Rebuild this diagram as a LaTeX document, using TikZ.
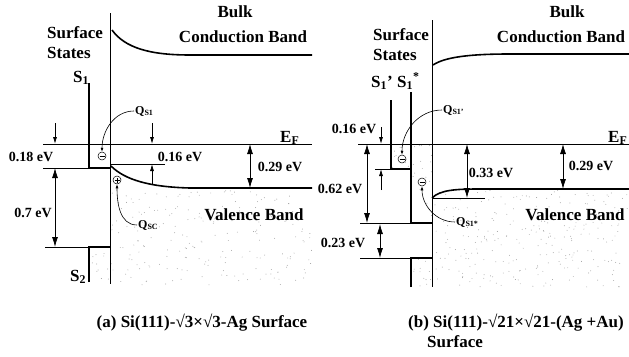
\documentclass[tikz,border=0pt]{standalone}
\usepackage{fontspec}
\setmainfont{Liberation Serif}
\usetikzlibrary{arrows.meta}

\begin{document}
\begin{tikzpicture}[x=1pt,y=-1pt,
    band/.style={line width=1.6pt},
    level/.style={line width=1.6pt},
    wall/.style={line width=1.1pt},
    ref/.style={line width=0.6pt},
    dim/.style={line width=0.8pt,{Latex[length=10pt,width=6pt]}-{Latex[length=10pt,width=6pt]}},
    tick/.style={line width=0.8pt,-{Latex[length=7pt,width=4pt]}},
    qarr/.style={line width=0.6pt,-{Latex[length=4pt,width=3pt]}},
    stip/.style={fill=black!40},
    lbl/.style={font=\bfseries\fontsize{17}{19}\selectfont,inner sep=0pt},
    ev/.style={font=\bfseries\fontsize{14}{16}\selectfont,inner sep=0pt},
    qlbl/.style={font=\bfseries\fontsize{12}{14}\selectfont,inner sep=0pt},
    neg/.style={circle,draw,line width=0.5pt,minimum size=8pt,inner sep=0pt,
      path picture={\draw ([xshift=1.5pt]path picture bounding box.west) -- ([xshift=-1.5pt]path picture bounding box.east);}},
    posc/.style={circle,draw,line width=0.5pt,minimum size=8pt,inner sep=0pt,
      path picture={\draw ([xshift=1.5pt]path picture bounding box.west) -- ([xshift=-1.5pt]path picture bounding box.east)
        ([yshift=1.5pt]path picture bounding box.south) -- ([yshift=-1.5pt]path picture bounding box.north);}}]

  \useasboundingbox (0,0) rectangle (629,356);
  \pgfmathsetseed{7}

  % ---------------- (a) Si(111)-sqrt3 x sqrt3-Ag ----------------

  % Stippled valence band
  \begin{scope}
    \clip (111,166) .. controls (125,180) and (150,187) .. (190,188) -- (312,188)
      -- (312,285) -- (111,285) -- cycle;
    \foreach \i in {1,...,260}
      \fill[stip] ({111+201*rnd},{166+119*rnd}) circle (0.45pt);
  \end{scope}
  \begin{scope}
    \clip (89,247) rectangle (110,284);
    \foreach \i in {1,...,12}
      \fill[stip] ({89+21*rnd},{247+37*rnd}) circle (0.45pt);
  \end{scope}

  % Fermi level and reference lines
  \draw[ref] (43,144) -- (312,144);
  \draw[ref] (43,168) -- (89,168);
  \draw[ref] (45,247) -- (89,247);
  \draw[ref] (111,164) -- (165,164);

  % Surface
  \draw[wall] (110.5,13) -- (110.5,284);

  % Bands
  \draw[band] (112,30) .. controls (125,48) and (150,55) .. (190,55) -- (312,55);
  \draw[band] (111,166) .. controls (125,180) and (150,187) .. (190,188) -- (312,188);

  % Surface state levels
  \draw[level] (89,83) -- (89,168) -- (110,168);
  \draw[level] (89,282) -- (89,247) -- (110,247);

  % Energies
  \draw[tick] (55,123) -- (55,144);
  \draw[dim] (55,168) -- (55,247);
  \draw[tick] (152,123) -- (152,144);
  \draw[tick] (152,185) -- (152,164);
  \draw[dim] (250,144) -- (250,188);
  \node[ev,anchor=base] (eAa) at (31,161) {0.18 eV};
  \node[ev,anchor=base] (eAb) at (33,217) {0.7 eV};
  \node[ev,anchor=base] (eAc) at (180,161) {0.16 eV};
  \node[ev,anchor=base] (eAd) at (280,171) {0.29 eV};

  % Charges
  \node[neg] (mA) at (102,156) {};
  \node[posc] (pA) at (117,180) {};
  \node[qlbl,anchor=base west] (qsA) at (135,114) {Q\textsubscript{S1}};
  \node[qlbl,anchor=base west] (qcA) at (138,228) {Q\textsubscript{SC}};
  \draw[qarr] ([xshift=-1pt]qsA.west) to[out=180,in=90] (mA.north);
  \draw[qarr] ([xshift=-1pt]qcA.west) to[out=180,in=-90] (pA.south);

  % Labels
  \node[lbl,anchor=base] (bulkA) at (235,17) {Bulk};
  \node[lbl,anchor=base] (cbA) at (243,42) {Conduction Band};
  \node[lbl,anchor=base west] (surfA) at (47,38) {Surface};
  \node[lbl,anchor=base west] (statA) at (47,58) {States};
  \node[lbl,anchor=base west] (s1A) at (73,82) {S\textsubscript{1}};
  \node[lbl,anchor=base west] (s2A) at (70,281) {S\textsubscript{2}};
  \node[lbl,anchor=base west] (efA) at (280,142) {E\textsubscript{F}};
  \node[lbl,anchor=base] (vbA) at (254,220) {Valence Band};
  \node[lbl,anchor=base] (capA) at (202,327) {(a) Si(111)-√3×√3-Ag Surface};

  % ---------------- (b) Si(111)-sqrt21 x sqrt21-(Ag+Au) ----------------

  % Stippled valence band and filled states
  \begin{scope}
    \clip (432,198) .. controls (440,190) and (455,189) .. (480,189) -- (629,189)
      -- (629,287) -- (432,287) -- cycle;
    \foreach \i in {1,...,260}
      \fill[stip] ({432+197*rnd},{189+98*rnd}) circle (0.45pt);
  \end{scope}
  \begin{scope}
    \clip (391,144) rectangle (411,169) (411,144) rectangle (432,223)
      (411,258) rectangle (432,287);
    \foreach \i in {1,...,90}
      \fill[stip] ({391+41*rnd},{144+143*rnd}) circle (0.45pt);
  \end{scope}

  % Fermi level and reference lines
  \draw[ref] (358,144) -- (629,144);
  \draw[ref] (375,169) -- (391,169);
  \draw[ref] (360,223) -- (411,223);
  \draw[ref] (360,258) -- (411,258);
  \draw[ref] (432,198) -- (485,198);

  % Surface
  \draw[wall] (432.5,20) -- (432.5,287);

  % Bands
  \draw[band] (433,65) .. controls (445,57) and (470,54) .. (510,54) -- (629,54);
  \draw[band] (432,198) .. controls (440,190) and (455,189) .. (480,189) -- (629,189);

  % Surface state levels
  \draw[level] (391,100) -- (391,169) -- (411,169);
  \draw[level] (411,92) -- (411,223) -- (432,223);
  \draw[level] (411,287) -- (411,258) -- (432,258);

  % Energies
  \draw[tick] (381,127) -- (381,144);
  \draw[tick] (381,190) -- (381,169);
  \draw[dim] (367,144) -- (367,223);
  \draw[dim] (380,224) -- (380,258);
  \draw[dim] (467,144) -- (467,198);
  \draw[dim] (563,144) -- (563,189);
  \node[ev,anchor=base] (eBa) at (354,133) {0.16 eV};
  \node[ev,anchor=base] (eBb) at (340,193) {0.62 eV};
  \node[ev,anchor=base] (eBc) at (343,247) {0.23 eV};
  \node[ev,anchor=base] (eBd) at (491,177) {0.33 eV};
  \node[ev,anchor=base] (eBe) at (591,170) {0.29 eV};

  % Charges
  \node[neg] (mB1) at (402,159) {};
  \node[neg] (mB2) at (422,182) {};
  \node[qlbl,anchor=base west] (qsB1) at (443,113) {Q\textsubscript{S1'}};
  \node[qlbl,anchor=base west] (qsB2) at (456,225) {Q\textsubscript{S1*}};
  \draw[qarr] ([xshift=-1pt]qsB1.west) to[out=180,in=90] (mB1.north);
  \draw[qarr] ([xshift=-1pt]qsB2.west) to[out=180,in=-90] (mB2.south);

  % Labels
  \node[lbl,anchor=base] (bulkB) at (567,17) {Bulk};
  \node[lbl,anchor=base] (cbB) at (561,42) {Conduction Band};
  \node[lbl,anchor=base west] (surfB) at (373,40) {Surface};
  \node[lbl,anchor=base west] (statB) at (373,60) {States};
  \node[lbl,anchor=base west] (s1pB) at (371,87) {S\textsubscript{1}'};
  \node[lbl,anchor=base west] (s1sB) at (397,87) {S\textsubscript{1}\textsuperscript{*}};
  \node[lbl,anchor=base west] (efB) at (608,142) {E\textsubscript{F}};
  \node[lbl,anchor=base] (vbB) at (575,220) {Valence Band};
  \node[lbl,anchor=base] (capB) at (516,327) {(b) Si(111)-√21×√21-(Ag +Au)};
  \node[lbl,anchor=base west] (capB2) at (427,347) {Surface};

\end{tikzpicture}
\end{document}
